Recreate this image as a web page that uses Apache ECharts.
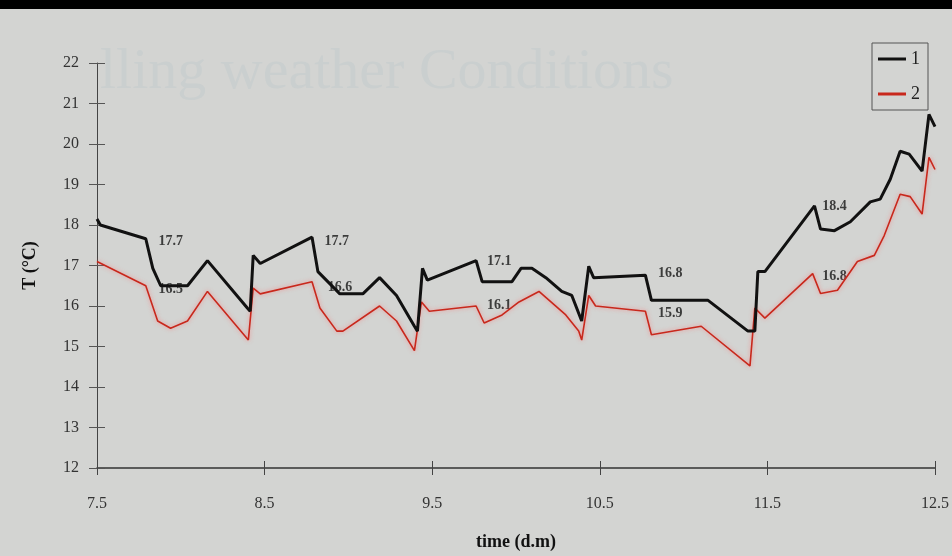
<!DOCTYPE html>
<html>
<head>
<meta charset="utf-8">
<script src="https://cdn.jsdelivr.net/npm/echarts@6/dist/echarts.min.js"></script>
<style>
  html, body { margin: 0; padding: 0; background: #d3d4d2; }
  #chart { width: 952px; height: 556px; }
</style>
</head>
<body>
<div id="chart"></div>
<script>
// series 1 (black)
var time1 = [7.5, 7.52, 7.791, 7.833, 7.88, 8.04, 8.159, 8.397, 8.414, 8.432, 8.474, 8.783, 8.818, 8.949, 9.008, 9.086,
  9.186, 9.287, 9.394, 9.412, 9.442, 9.471, 9.762, 9.798, 9.976, 10.03, 10.095, 10.178, 10.273, 10.333, 10.392, 10.434,
  10.463, 10.772, 10.808, 11.146, 11.384, 11.425, 11.443, 11.485, 11.781, 11.817, 11.9, 11.995, 12.114, 12.173, 12.233,
  12.292, 12.346, 12.423, 12.464, 12.5];
var temp1 = [18.15, 18.0, 17.66, 16.93, 16.5, 16.5, 17.12, 15.95, 15.87, 17.25, 17.05, 17.7, 16.85, 16.3, 16.3, 16.3,
  16.7, 16.26, 15.5, 15.38, 16.93, 16.64, 17.12, 16.6, 16.6, 16.93, 16.93, 16.7, 16.36, 16.26, 15.63, 16.98,
  16.7, 16.76, 16.14, 16.14, 15.38, 15.38, 16.85, 16.85, 18.47, 17.9, 17.86, 18.08, 18.57, 18.64, 19.13,
  19.82, 19.75, 19.33, 20.73, 20.43];
// series 2 (red)
var time2 = [7.5, 7.791, 7.862, 7.939, 8.04, 8.159, 8.403, 8.432, 8.474, 8.783, 8.83, 8.931, 8.967, 9.186, 9.287, 9.394,
  9.436, 9.483, 9.762, 9.81, 9.917, 10.018, 10.137, 10.297, 10.374, 10.392, 10.434, 10.475, 10.772, 10.808, 11.105,
  11.396, 11.425, 11.485, 11.77, 11.817, 11.918, 12.037, 12.138, 12.197, 12.292, 12.352, 12.423, 12.464, 12.5];
var temp2 = [17.1, 16.5, 15.63, 15.45, 15.63, 16.36, 15.16, 16.44, 16.3, 16.6, 15.95, 15.38, 15.38, 16.0, 15.63, 14.9,
  16.1, 15.87, 16.0, 15.58, 15.78, 16.1, 16.36, 15.78, 15.38, 15.16, 16.26, 16.0, 15.87, 15.29, 15.5,
  14.52, 15.95, 15.7, 16.8, 16.31, 16.39, 17.1, 17.25, 17.74, 18.76, 18.7, 18.27, 19.67, 19.37];
// value notes written on the plot
var noteText = ['17.7', '16.5', '17.7', '16.6', '17.1', '16.1', '16.8', '15.9', '18.4', '16.8'];
var noteTime = [7.94, 7.94, 8.93, 8.95, 9.9, 9.9, 10.92, 10.92, 11.9, 11.9];
var noteTemp = [17.6, 16.42, 17.6, 16.45, 17.1, 16.02, 16.8, 15.82, 18.45, 16.73];

var serif = '"Liberation Serif", "DejaVu Serif", serif';

function pairs(xs, ys) {
  var out = [];
  for (var i = 0; i < xs.length; i++) out.push([xs[i], ys[i]]);
  return out;
}

var notes = [];
for (var i = 0; i < noteText.length; i++) {
  notes.push({ name: noteText[i], value: [noteTime[i], noteTemp[i]] });
}

var chart = echarts.init(document.getElementById('chart'));
var option = {
  backgroundColor: '#d3d4d2',
  animation: false,
  graphic: [
    { type: 'rect', left: 0, top: 0, shape: { width: 952, height: 9 }, style: { fill: '#000' }, z: 100 },
    // faint bleed-through title behind the plot
    { type: 'text', left: 100, top: 44, z: 0,
      style: { text: 'lling weather Conditions', fill: '#cacfcf', font: '58px ' + serif } }
  ],
  grid: { left: 97, right: 14, top: 63, bottom: 75 },
  legend: {
    data: [{ name: '1', icon: 'rect' }, { name: '2', icon: 'rect' }],
    orient: 'vertical',
    left: 872,
    top: 43,
    padding: [7, 8, 7, 6],
    itemGap: 17,
    itemWidth: 28,
    itemHeight: 3,
    borderColor: '#555',
    borderWidth: 1,
    textStyle: { fontFamily: serif, fontSize: 18, color: '#222' }
  },
  xAxis: [{
    type: 'value',
    min: 7.5,
    max: 12.5,
    interval: 1,
    name: 'time (d.m)',
    nameLocation: 'middle',
    nameGap: 65,
    nameTextStyle: { fontFamily: serif, fontWeight: 'bold', fontSize: 18, color: '#111' },
    axisLine: { lineStyle: { color: '#333', width: 1.5 } },
    axisTick: { length: 7, lineStyle: { color: '#444' } },
    axisLabel: { margin: 28, fontFamily: serif, fontSize: 16, color: '#333',
      formatter: function (v) { return v.toFixed(1); } },
    splitLine: { show: false }
  }, {
    type: 'value', min: 7.5, max: 12.5, interval: 1, position: 'bottom',
    axisLine: { show: false },
    axisTick: { inside: true, length: 7, lineStyle: { color: '#444' } },
    axisLabel: { show: false },
    splitLine: { show: false }
  }],
  yAxis: [{
    type: 'value',
    min: 12,
    max: 22,
    interval: 1,
    name: 'T (°C)',
    nameLocation: 'middle',
    nameGap: 58,
    nameTextStyle: { fontFamily: serif, fontWeight: 'bold', fontSize: 18, color: '#111' },
    axisLine: { show: true, lineStyle: { color: '#444', width: 1 } },
    axisTick: { show: true, length: 8, lineStyle: { color: '#555' } },
    axisLabel: { margin: 18, fontFamily: serif, fontSize: 16, color: '#333' },
    splitLine: { show: false }
  }, {
    type: 'value', min: 12, max: 22, interval: 1, position: 'left',
    axisLine: { show: false },
    axisTick: { show: true, inside: true, length: 8, lineStyle: { color: '#555' } },
    axisLabel: { show: false },
    splitLine: { show: false }
  }],
  series: [
    {
      name: 'notes',
      type: 'scatter',
      symbolSize: 0,
      silent: true,
      z: 1,
      data: notes,
      label: {
        show: true,
        position: 'inside',
        formatter: function (p) { return p.name; },
        fontFamily: serif,
        fontWeight: 'bold',
        fontSize: 14,
        color: '#151515'
      }
    },
    {
      name: '2',
      type: 'line',
      symbol: 'none',
      z: 3,
      color: '#c8281c',
      lineStyle: { color: '#c8281c', width: 1.6, shadowColor: 'rgba(255,110,110,0.7)', shadowBlur: 4 },
      data: pairs(time2, temp2)
    },
    {
      name: '1',
      type: 'line',
      symbol: 'none',
      z: 4,
      color: '#111',
      lineStyle: { color: '#111', width: 3 },
      data: pairs(time1, temp1)
    }
  ]
};
chart.setOption(option);
window.addEventListener('resize', function () { chart.resize(); });
</script>
</body>
</html>
